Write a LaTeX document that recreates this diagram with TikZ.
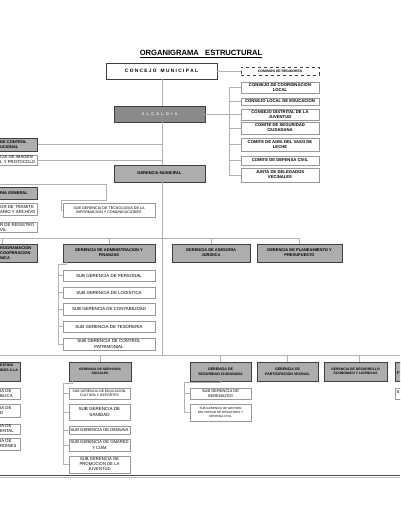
\documentclass[tikz,border=0pt]{standalone}
\usepackage{fontspec}
\setmainfont{Liberation Sans}
\usetikzlibrary{positioning}

\tikzset{
  gbox/.style={draw=black!75, line width=0.8pt, fill=black!32, align=center, inner sep=0.5pt, font=\fontsize{4}{4.8}\selectfont\bfseries},
  wbox/.style={draw=black!40, line width=0.6pt, fill=white, align=center, inner sep=0.5pt, font=\fontsize{4.4}{5.2}\selectfont},
  cbox/.style={wbox, font=\fontsize{4.2}{5}\selectfont\bfseries},
  cutg/.style={anchor=west, align=left, inner sep=0pt, font=\fontsize{4}{4.8}\selectfont\bfseries},
  cutw/.style={anchor=west, align=left, inner sep=0pt, font=\fontsize{4.3}{5}\selectfont},
  link/.style={draw=black!30, line width=0.8pt},
}

\begin{document}
\begin{tikzpicture}[x=1pt, y=-1pt]
\clip (0,0) rectangle (400,516);
\fill[white] (0,0) rectangle (400,516);

% titulo
\node[font=\fontsize{7.6}{9}\selectfont\bfseries] (titulo) at (201,54) {\underline{ORGANIGRAMA~~~ESTRUCTURAL}};

% alta direccion
\node[wbox, draw=black!75, minimum width=111pt, minimum height=16pt, font=\fontsize{4.8}{5.6}\selectfont\bfseries] (concejo) at (161.5,71) {C O N C E J O~~~M U N I C I P A L};
\node[cbox, dashed, draw=black!75, minimum width=78pt, minimum height=8pt, font=\fontsize{3.4}{4}\selectfont\bfseries] (comision) at (280,71) {COMISION DE REGIDORES};
\node[gbox, fill=black!46, text=black!8, minimum width=91pt, minimum height=16pt] (alcaldia) at (159.5,114) {A~~L~~C~~A~~L~~D~~I~~A};
\node[gbox, minimum width=91pt, minimum height=17pt] (gm) at (159.5,173.5) {GERENCIA MUNICIPAL};

% organos de coordinacion
\node[cbox, minimum width=78pt, minimum height=11pt] (c1) at (280,87.5) {CONSEJO DE COORDINACION\\LOCAL};
\node[cbox, minimum width=78pt, minimum height=7pt] (c2) at (280,101.5) {CONSEJO LOCAL DE EDUCACION};
\node[cbox, minimum width=78pt, minimum height=11pt] (c3) at (280,114.5) {CONSEJO DISTRITAL DE LA\\JUVENTUD};
\node[cbox, minimum width=78pt, minimum height=12pt] (c4) at (280,128) {COMITE DE SEGURIDAD\\CIUDADANA};
\node[cbox, minimum width=78pt, minimum height=13pt] (c5) at (280,144.5) {COMITE DE ADM. DEL VASO DE\\LECHE};
\node[cbox, minimum width=78pt, minimum height=9pt] (c6) at (280,160.5) {COMITE DE DEFENSA CIVIL};
\node[cbox, minimum width=78pt, minimum height=14pt] (c7) at (280,175) {JUNTA DE DELEGADOS\\VECINALES};

% organos del lado izquierdo (cortados)
\node[gbox, anchor=east, minimum width=44pt, minimum height=13pt] (oci) at (37.5,144.5) {};
\node[cutg] (oci-t) at (0,144.5) {DE CONTROL\\UCIONAL};
\node[wbox, anchor=east, minimum width=44pt, minimum height=10pt] (img) at (37.5,160) {};
\node[cutw] (img-t) at (0,160) {CIA DE IMAGEN\\L Y PROTOCOLO};
\node[gbox, anchor=east, minimum width=44pt, minimum height=12pt] (sg) at (37.5,193) {};
\node[cutg] (sg-t) at (0,193) {RIA GENERAL};
\node[wbox, anchor=east, minimum width=44pt, minimum height=12pt] (tram) at (37.5,209.5) {};
\node[cutw] (tram-t) at (0,209.5) {OR DE TRAMITE\\ARIO Y ARCHIVO};
\node[wbox, anchor=east, minimum width=44pt, minimum height=10pt] (reg) at (37.5,227.5) {};
\node[cutw] (reg-t) at (0,227.5) {R DE REGISTRO\\VIL};
\node[gbox, anchor=east, minimum width=44pt, minimum height=18pt] (prog) at (37.5,253) {};
\node[cutg] (prog-t) at (0,253) {ROGRAMACION\\COOPERACION\\NICA};

\node[wbox, minimum width=92pt, minimum height=14pt, font=\fontsize{3.7}{4.5}\selectfont] (tec) at (109,210) {SUB GERENCIA DE TECNOLOGIA DE LA\\INFORMACION Y COMUNICACIONES};

% gerencias de linea
\node[gbox, minimum width=92pt, minimum height=18pt] (admin) at (109,253) {GERENCIA DE ADMINISTRACION Y\\FINANZAS};
\node[gbox, minimum width=78pt, minimum height=18pt] (aseso) at (211,253) {GERENCIA DE ASESORIA\\JURIDICA};
\node[gbox, minimum width=85pt, minimum height=18pt] (plan) at (299.5,253) {GERENCIA DE PLANEAMIENTO Y\\PRESUPUESTO};

\node[wbox, minimum width=92pt, minimum height=11pt] (s1) at (109,275.5) {SUB GERENCIA DE PERSONAL};
\node[wbox, minimum width=92pt, minimum height=11pt] (s2) at (109,292.5) {SUB GERENCIA DE LOGISTICA};
\node[wbox, minimum width=92pt, minimum height=12pt] (s3) at (109,309) {SUB GERENCIA DE CONTABILIDAD};
\node[wbox, minimum width=92pt, minimum height=11pt] (s4) at (109,326.5) {SUB GERENCIA DE TESORERIA};
\node[wbox, minimum width=92pt, minimum height=12pt] (s5) at (109,344) {SUB GERENCIA DE CONTROL\\PATRIMONIAL};

% fila inferior
\node[gbox, anchor=east, minimum width=27pt, minimum height=19pt] (gest) at (20.5,371.5) {};
\node[cutg, font=\fontsize{3.5}{4.6}\selectfont\bfseries] (gest-t) at (0,368) {ESTION\\IDOS A LA};
\node[wbox, anchor=east, minimum width=27pt, minimum height=11pt] (l1) at (20.5,393.5) {};
\node[cutw] (l1-t) at (0,393.5) {IA DE\\BLICA};
\node[wbox, anchor=east, minimum width=27pt, minimum height=13pt] (l2) at (20.5,410.5) {};
\node[cutw] (l2-t) at (0,410.5) {IA DE\\D};
\node[wbox, anchor=east, minimum width=27pt, minimum height=10pt] (l3) at (20.5,429) {};
\node[cutw] (l3-t) at (0,429) {IA DE\\ENTAL};
\node[wbox, anchor=east, minimum width=27pt, minimum height=12pt] (l4) at (20.5,444) {};
\node[cutw] (l4-t) at (0,444) {IA DE\\RDINES};

\node[gbox, minimum width=62pt, minimum height=19pt, font=\fontsize{3.3}{4.4}\selectfont\bfseries] (serv) at (100,371.5) {GERENCIA DE SERVICIOS\\SOCIALES};
\node[wbox, minimum width=61pt, minimum height=11pt, font=\fontsize{3.4}{4.2}\selectfont] (v1) at (99.5,393.5) {SUB GERENCIA DE EDUCACION,\\CULTURA Y DEPORTES};
\node[wbox, minimum width=61pt, minimum height=16pt, font=\fontsize{4.5}{5.8}\selectfont] (v2) at (99.5,412) {SUB GERENCIA DE\\SANIDAD};
\node[wbox, minimum width=61pt, minimum height=8pt, font=\fontsize{4.2}{5}\selectfont] (v3) at (99.5,430) {SUB GERENCIA DE DEMUNA};
\node[wbox, minimum width=61pt, minimum height=12pt, font=\fontsize{4.2}{5.2}\selectfont] (v4) at (99.5,445) {SUB GERENCIA DE OMAPED\\Y CIAM};
\node[wbox, minimum width=61pt, minimum height=17pt, font=\fontsize{4.2}{5}\selectfont] (v5) at (99.5,464.5) {SUB GERENCIA DE\\PROMOCION DE LA\\JUVENTUD};

\node[gbox, minimum width=61pt, minimum height=19pt, font=\fontsize{3.6}{4.6}\selectfont\bfseries] (seg) at (220.5,371.5) {GERENCIA DE\\SEGURIDAD CIUDADANA};
\node[wbox, minimum width=61pt, minimum height=11pt, font=\fontsize{4}{4.8}\selectfont] (z1) at (220.5,393.5) {SUB GERENCIA DE\\SERENAZGO};
\node[wbox, minimum width=61pt, minimum height=17pt, font=\fontsize{3}{3.8}\selectfont] (z2) at (220.5,412.5) {SUB GERENCIA DE GESTIÓN\\DEL RIESGO DE DESASTRES Y\\DEFENSA CIVIL};

\node[gbox, minimum width=61pt, minimum height=19pt, font=\fontsize{3.6}{4.6}\selectfont\bfseries] (part) at (287.5,371.5) {GERENCIA DE\\PARTICIPACION VECINAL};
\node[gbox, minimum width=63pt, minimum height=19pt, font=\fontsize{3.4}{4.4}\selectfont\bfseries] (des) at (355.5,371.5) {GERENCIA DE DESARROLLO\\ECONOMICO Y LICENCIAS};

\node[gbox, anchor=west, minimum width=30pt, minimum height=19pt] (rger) at (395,371.5) {};
\node[cutg] (rger-t) at (397,373) {F};
\node[wbox, anchor=west, minimum width=30pt, minimum height=11pt] (rsub) at (395,393.5) {};
\node[cutw] (rsub-t) at (396.5,392) {S};

% conectores
\coordinate (eje) at (162,355);
\coordinate (cv) at (229,0);
\draw[link] (eje |- concejo.south) -- (eje |- alcaldia.north);
\draw[link] (eje |- alcaldia.south) -- (eje |- gm.north);
\draw[link] (eje |- gm.south) -- (eje);
\draw[link] (concejo.east) -- (comision.west);
\draw[link] (alcaldia.east) -- (cv |- alcaldia.east);
\draw[link] (cv |- c1) -- (cv |- c7);
\foreach \n in {c1,c2,c3,c4,c5,c6,c7}
  \draw[link] (cv |- \n) -- (\n.west);

\draw[link] (oci.east) -- (eje |- oci.east);
\draw[link] (img.east) -- (eje |- img.east);
\coordinate (sgl) at (0,184);
\draw[link] (sgl) -- (106,184) -- (106,200) -- (61,200) |- (tec.west);

\coordinate (b1l) at (0,238);
\coordinate (b1r) at (299.5,238);
\draw[link] (b1l) -- (b1r);
\draw[link] ([xshift=2pt]b1l) -- ([xshift=2pt]b1l |- prog.north);
\foreach \n in {admin,aseso,plan}
  \draw[link] (\n.north) -- (\n.north |- b1l);
\draw[link] ([xshift=4pt]admin.south west) -- ++(0,2) -| ([xshift=-4pt]s5.west) -- (s5.west);
\foreach \n in {s1,s2,s3,s4}
  \draw[link] ([xshift=-4pt]\n.west) -- (\n.west);

\coordinate (b2l) at (0,355);
\coordinate (b2r) at (400,355);
\draw[link] (b2l) -- (b2r);
\foreach \n in {serv,seg,part}
  \draw[link] (\n.north) -- (\n.north |- b2l);
\draw[link] ([xshift=3.5pt]des.north) -- ([xshift=3.5pt]des.north |- b2l);
\draw[link] ([xshift=4pt]serv.south west) -- ++(0,1.5) -| ([xshift=-5pt]v5.west) -- (v5.west);
\foreach \n in {v1,v2,v3,v4}
  \draw[link] ([xshift=-5pt]\n.west) -- (\n.west);
\draw[link] (seg.south) -- ++(0,1) -| ([xshift=-5pt]z2.west) -- (z2.west);
\draw[link] ([xshift=-5pt]z1.west) -- (z1.west);

% linea de pie
\draw[black!70, line width=1.3pt] (0,475.8) -- (400,475.8);
\draw[black!25, line width=0.8pt] (0,477.8) -- (400,477.8);
\end{tikzpicture}
\end{document}
